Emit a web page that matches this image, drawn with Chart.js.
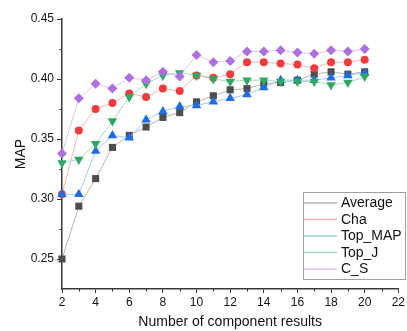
<!DOCTYPE html>
<html>
<head>
<meta charset="utf-8">
<script src="https://cdn.jsdelivr.net/npm/chart.js@4.4.0/dist/chart.umd.min.js"></script>
<style>
  html, body { margin: 0; padding: 0; background: #fff; }
  #wrap { width: 407px; height: 331px; }
</style>
</head>
<body>
<div id="wrap"><canvas id="c" width="407" height="331"></canvas></div>
<script>
const xValues = [2,3,4,5,6,7,8,9,10,11,12,13,14,15,16,17,18,19,20];
const averageValues = [0.250,0.294,0.317,0.343,0.353,0.360,0.368,0.372,0.381,0.386,0.391,0.392,0.396,0.397,0.399,0.404,0.406,0.404,0.406];
const chaValues     = [0.304,0.357,0.375,0.380,0.388,0.385,0.392,0.390,0.403,0.401,0.404,0.414,0.414,0.413,0.412,0.409,0.414,0.414,0.416];
const topMapValues  = [0.304,0.304,0.340,0.353,0.351,0.366,0.373,0.377,0.378,0.381,0.384,0.387,0.393,0.399,0.399,0.399,0.401,0.403,0.405];
const topJValues    = [0.330,0.333,0.346,0.365,0.385,0.396,0.403,0.405,0.403,0.400,0.398,0.399,0.399,0.398,0.398,0.398,0.395,0.397,0.402];
const csValues      = [0.338,0.384,0.396,0.392,0.401,0.399,0.406,0.402,0.420,0.414,0.415,0.423,0.423,0.424,0.422,0.421,0.424,0.423,0.425];
const seriesNames = ['Average','Cha','Top_MAP','Top_J','C_S'];
const xTickLabels = [2,4,6,8,10,12,14,16,18,20,22];
const yTickLabels = [0.25,0.30,0.35,0.40,0.45];

const styles = [
  {line:'#b4b4b4', point:'#4d4d4d', shape:'rect', r:5, rot:0},
  {line:'#f7b4b4', point:'#f23c3c', shape:'circle', r:4, rot:0},
  {line:'#a9c8f2', point:'#1c6de6', shape:'triangle', r:5.5, rot:0},
  {line:'#a9dcc0', point:'#2ea862', shape:'triangle', r:5.5, rot:180},
  {line:'#dcc3f2', point:'#b06fe0', shape:'rectRot', r:5, rot:0}
];
const allValues = [averageValues, chaValues, topMapValues, topJValues, csValues];

const datasets = allValues.map((vals, i) => ({
  label: seriesNames[i],
  data: xValues.map((x, j) => ({x: x, y: vals[j]})),
  borderColor: styles[i].line,
  borderWidth: 1,
  backgroundColor: styles[i].point,
  pointBackgroundColor: styles[i].point,
  pointBorderColor: styles[i].point,
  pointBorderWidth: 0,
  pointStyle: styles[i].shape,
  pointRadius: styles[i].r,
  pointRotation: styles[i].rot,
  pointHoverRadius: styles[i].r,
  clip: false,
  order: 5 - i,
  tension: 0
}));

const FONT = "'Liberation Sans', Arial, sans-serif";

const minorTicks = {
  id: 'minorTicks',
  afterDraw(chart) {
    const ctx = chart.ctx;
    const xs = chart.scales.x, ys = chart.scales.y;
    ctx.save();
    ctx.strokeStyle = '#333';
    ctx.lineWidth = 1;
    for (let v = 3; v <= 21; v += 2) {
      const px = Math.round(xs.getPixelForValue(v)) + 0.5;
      ctx.beginPath();
      ctx.moveTo(px, xs.top);
      ctx.lineTo(px, xs.top + 2.5);
      ctx.stroke();
    }
    [0.275, 0.325, 0.375, 0.425].forEach(v => {
      const py = Math.round(ys.getPixelForValue(v)) + 0.5;
      ctx.beginPath();
      ctx.moveTo(ys.right, py);
      ctx.lineTo(ys.right - 2.5, py);
      ctx.stroke();
    });
    ctx.restore();
  }
};

const boxLegend = {
  id: 'boxLegend',
  afterDraw(chart) {
    const ctx = chart.ctx;
    const left = 303, top = 192, w = 103, h = 88;
    ctx.save();
    ctx.fillStyle = '#fff';
    ctx.fillRect(left, top, w, h);
    ctx.strokeStyle = '#a0a0a0';
    ctx.lineWidth = 1;
    ctx.strokeRect(left + 0.5, top + 0.5, w - 1, h - 1);
    ctx.font = '14px ' + FONT;
    ctx.textBaseline = 'middle';
    ctx.textAlign = 'left';
    seriesNames.forEach((name, i) => {
      const y = top + 11 + i * 16.5;
      ctx.strokeStyle = styles[i].line;
      ctx.lineWidth = 1.5;
      ctx.beginPath();
      ctx.moveTo(left + 1, y);
      ctx.lineTo(left + 34, y);
      ctx.stroke();
      ctx.fillStyle = styles[i].point;
      ctx.strokeStyle = styles[i].point;
      ctx.lineWidth = 0;
      Chart.helpers.drawPoint(ctx, {
        pointStyle: styles[i].shape,
        rotation: styles[i].rot,
        borderWidth: 0
      }, left + 17.5, y, styles[i].r * 0.85);
      ctx.fillStyle = '#111';
      ctx.fillText(name, left + 38, y + 0.5);
    });
    ctx.restore();
  }
};

new Chart(document.getElementById('c'), {
  type: 'line',
  data: { datasets: datasets },
  plugins: [minorTicks, boxLegend],
  options: {
    responsive: false,
    animation: false,
    events: [],
    layout: { padding: { top: 19, right: 7, left: 0, bottom: 0 } },
    plugins: { legend: { display: false }, tooltip: { enabled: false } },
    scales: {
      x: {
        type: 'linear',
        min: 2, max: 22,
        afterFit(s) { s.height = 42; },
        afterBuildTicks(s) { s.ticks = xTickLabels.map(v => ({value: v})); },
        ticks: {
          autoSkip: false, maxRotation: 0,
          color: '#111', padding: 2,
          font: { family: FONT, size: 12 },
          callback: v => String(v)
        },
        grid: { drawOnChartArea: false, drawTicks: true, tickLength: 4, tickColor: '#333', tickWidth: 1 },
        border: { display: true, color: '#3a3a3a', width: 1.5 },
        title: {
          display: true, text: 'Number of component results', color: '#111',
          font: { family: FONT, size: 14 }, padding: { top: 0, bottom: 0 }
        }
      },
      y: {
        type: 'linear',
        min: 0.225, max: 0.45,
        afterFit(s) { s.width = 62; },
        afterBuildTicks(s) { s.ticks = yTickLabels.map(v => ({value: v})); },
        ticks: {
          autoSkip: false,
          color: '#111', padding: 3,
          font: { family: FONT, size: 12 },
          callback: v => Number(v).toFixed(2)
        },
        grid: { drawOnChartArea: false, drawTicks: true, tickLength: 5, tickColor: '#333', tickWidth: 1 },
        border: { display: true, color: '#3a3a3a', width: 1.5 },
        title: {
          display: true, text: 'MAP', color: '#111',
          font: { family: FONT, size: 14 }, padding: { top: 13, bottom: 0 }
        }
      }
    }
  }
});
</script>
</body>
</html>
